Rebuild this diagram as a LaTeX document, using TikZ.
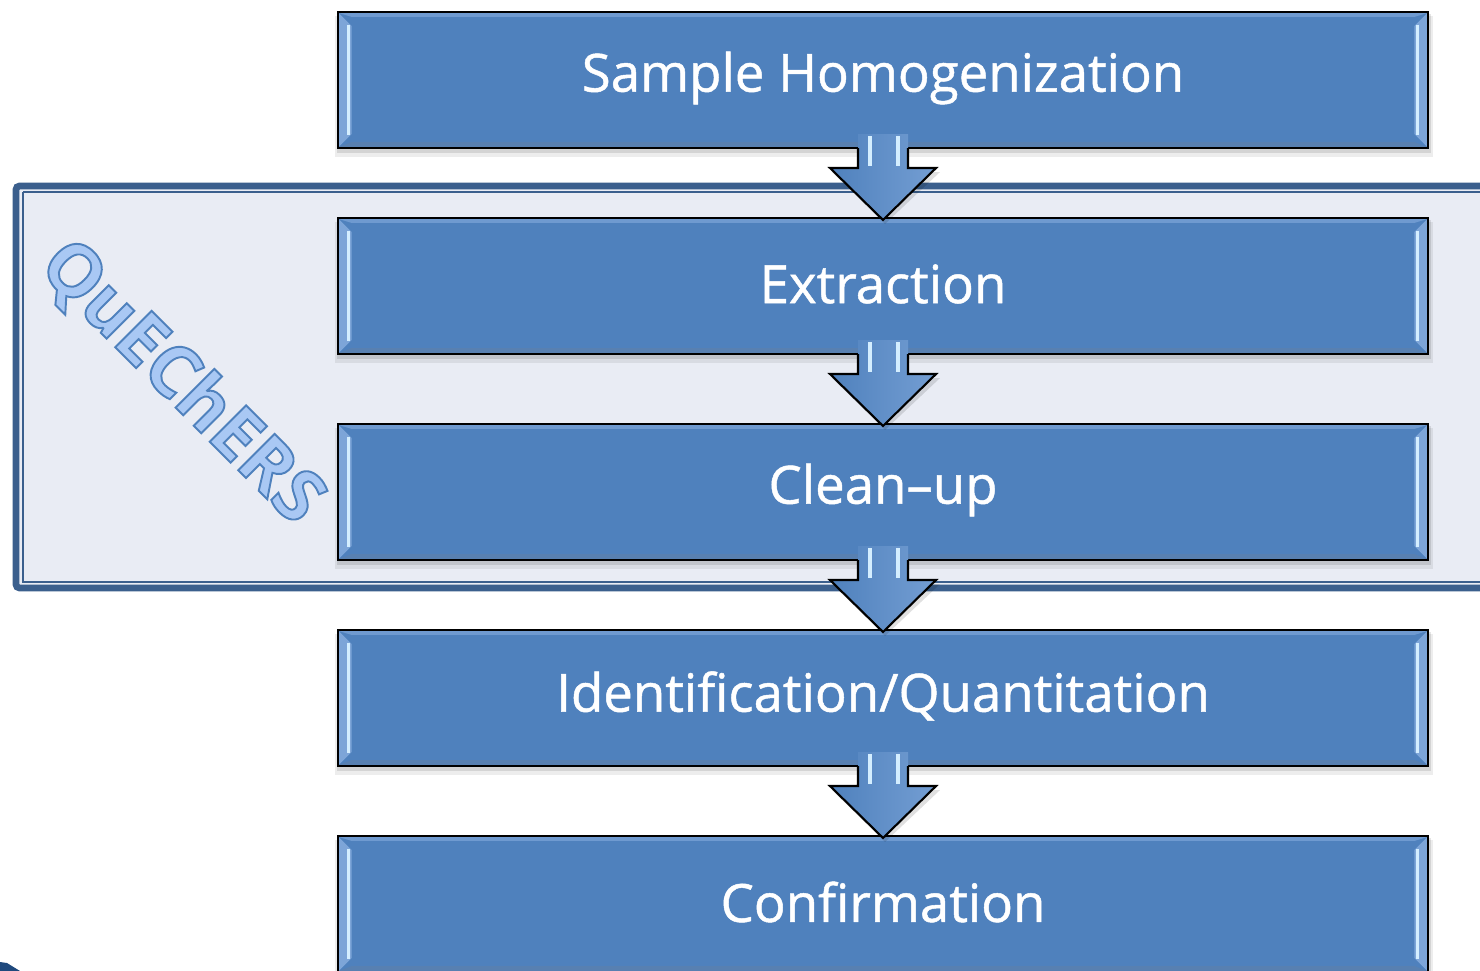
\documentclass[tikz,border=0pt]{standalone}
\usepackage{fontspec}
\setmainfont{Open Sans}
\newfontfamily\stagefont{Open Sans}[FakeBold=0.9]
\usetikzlibrary{calc}
\definecolor{boxblue}{HTML}{4F81BD}
\definecolor{bevlight}{HTML}{7DA5D8}
\definecolor{hlcol}{HTML}{D4EEFF}
\definecolor{framecol}{HTML}{3B5F8D}
\definecolor{framefill}{HTML}{E9ECF4}
\definecolor{quefill}{HTML}{A9C8F4}
\definecolor{dkblue}{HTML}{1F497D}
\newcommand\outlinedtext[1]{{\color{quefill}\special{pdf:literal direct 0.310 0.506 0.741 RG 0.55 w 2 Tr}#1\special{pdf:literal direct 0 Tr}}}
\tikzset{
  stage/.style={draw=black, line width=0.6pt, fill=boxblue, minimum width=10.9cm,
    minimum height=1.36cm, inner sep=0pt, outer sep=0pt},
  stagetext/.style={text=white, inner sep=0pt, font=\stagefont\fontsize{15}{18}\selectfont},
  bevside/.style={fill=bevlight},
  bevtop/.style={fill=bevlight!70!boxblue},
  bevbot/.style={fill=boxblue!80!black!60!bevlight},
  hl/.style={draw=hlcol, line width=0.9pt},
  arrowfill/.style={left color=boxblue, right color=bevlight!80!boxblue},
  arrowline/.style={draw=black, line width=0.6pt, line join=miter},
  framebox/.style={draw=framecol, line width=1.9pt, fill=framefill, rounded corners=1pt},
  frameinner/.style={draw=framecol, line width=0.45pt},
  quelabel/.style={rotate=-45, inner sep=0pt, font=\bfseries\fontsize{20.5}{24}\selectfont}
}
\newcommand\Stage[3]{%
  \fill[black,opacity=.07] (335,#2-64) rectangle (1433,#2+77);
  \fill[black,opacity=.10] (337,#2-66) rectangle (1431,#2+73);
  \node[stage] (#1) at (883,#2) {};
  \fill[bevtop] ($(#1.north west)+(1,1)$) -- ($(#1.north east)+(-1,1)$) -- ($(#1.north east)+(-14,5)$) -- ($(#1.north west)+(14,5)$) -- cycle;
  \fill[bevbot] ($(#1.south west)+(1,-1)$) -- ($(#1.south east)+(-1,-1)$) -- ($(#1.south east)+(-14,-6)$) -- ($(#1.south west)+(14,-6)$) -- cycle;
  \fill[bevside] ($(#1.north west)+(1,1)$) -- ($(#1.north west)+(14,14)$) -- ($(#1.south west)+(14,-14)$) -- ($(#1.south west)+(1,-1)$) -- cycle;
  \fill[bevside] ($(#1.north east)+(-1,1)$) -- ($(#1.north east)+(-14,14)$) -- ($(#1.south east)+(-14,-14)$) -- ($(#1.south east)+(-1,-1)$) -- cycle;
  \draw[hl] ($(#1.north west)+(11,13)$) -- ($(#1.south west)+(11,-13)$);
  \draw[hl] ($(#1.north east)+(-11,13)$) -- ($(#1.south east)+(-11,-13)$);
  \draw[line width=0.6pt] (#1.north west) rectangle (#1.south east);
  \node[stagetext] at ($(#1.center)+(0,-2)$) {#3};
}
\newcommand\Flow[2]{%
  \fill[black,opacity=.12] ($(#1.south)+(-23,24)$) -- ($(#1.south)+(-51,24)$) -- ($(#2.north)+(2,6)$) -- ($(#1.south)+(57,24)$) -- ($(#1.south)+(29,24)$) -- cycle;
  \path[arrowfill] ($(#1.south)+(-25,-14)$) -- ($(#1.south)+(25,-14)$) -- ($(#1.south)+(25,20)$) -- ($(#1.south)+(53,20)$) -- ($(#2.north)+(0,2)$) -- ($(#1.south)+(-53,20)$) -- ($(#1.south)+(-25,20)$) -- cycle;
  \draw[hl, line width=1pt] ($(#1.south)+(-13,-12)$) -- ($(#1.south)+(-13,18)$);
  \draw[hl, line width=1pt] ($(#1.south)+(15,-12)$) -- ($(#1.south)+(15,18)$);
  \draw[arrowline] ($(#1.south)+(-25,0)$) -- ($(#1.south)+(-25,20)$) -- ($(#1.south)+(-53,20)$) -- ($(#2.north)+(0,2)$) -- ($(#1.south)+(53,20)$) -- ($(#1.south)+(25,20)$) -- ($(#1.south)+(25,0)$);
}
\begin{document}
\begin{tikzpicture}[x=0.01cm, y=-0.01cm]
\useasboundingbox (0,0) rectangle (1480,971);
\fill[white] (0,0) rectangle (1480,971);
% QuEChERS frame
\path[framebox] (16,186) rectangle (1500,588);
\draw[frameinner] (23,192) -- (1500,192);
\draw[frameinner] (23,192) -- (23,582) -- (1500,582);
\node[quelabel] (que) at (181,383) {\outlinedtext{QuEChERS}};
% stages
\Stage{s1}{80}{Sample Homogenization}
\Stage{s2}{286}{Extraction}
\Stage{s3}{492}{Clean{\textendash}up}
\Stage{s4}{698}{Identification/Quantitation}
\Stage{s5}{904}{Confirmation}
% arrows
\Flow{s1}{s2}
\Flow{s2}{s3}
\Flow{s3}{s4}
\Flow{s4}{s5}
% corner fragment
\fill[dkblue] (0,962) -- (7,963) -- (20,971) -- (0,971) -- cycle;
\end{tikzpicture}
\end{document}
